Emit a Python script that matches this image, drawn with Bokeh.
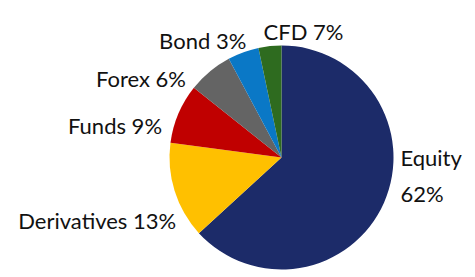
import numpy as np
from bokeh.plotting import figure
from bokeh.models import ColumnDataSource, Range1d
from bokeh.core.properties import value
from bokeh.embed import file_html
from bokeh.resources import INLINE

# ---- data ----
categories = ["Equity", "Derivatives", "Funds", "Forex", "Bond", "CFD"]
slice_values = [63.2, 13.9, 8.6, 6.5, 4.5, 3.3]     # slice sizes as drawn
label_pct = [62, 13, 9, 6, 3, 7]                     # percentages printed in labels

# ---- styles / layout ----
colors = ["#1c2b69", "#ffc000", "#c00000", "#646464", "#0a78c6", "#2e6b1f"]
W, H = 475, 277
cx, cy, r = 281, 120, 112
# label anchor (x, baseline y) in plot coords and alignment
label_pos = {
    "Equity": (400, 119.7, "left"),
    "Derivatives": (96.7, 57, "center"),
    "Funds": (114.5, 152, "center"),
    "Forex": (140.5, 198.7, "center"),
    "Bond": (202.2, 237, "center"),
    "CFD": (303, 246, "center"),
}
FONT = "Lato"
FSIZE = "22px"

vals = np.array(slice_values, dtype=float)
frac = vals / vals.sum()
cum = np.concatenate([[0], np.cumsum(frac)])
start = np.pi / 2 - cum[:-1] * 2 * np.pi
end = np.pi / 2 - cum[1:] * 2 * np.pi

src = ColumnDataSource(dict(start=start, end=end, color=colors, cat=categories))

p = figure(width=W, height=H, x_range=Range1d(0, W), y_range=Range1d(0, H),
           output_backend="svg", toolbar_location=None, min_border=0)
p.axis.visible = False
p.grid.visible = False
p.outline_line_color = None
p.background_fill_color = "white"

p.wedge(x=cx, y=cy, radius=r, start_angle="start", end_angle="end",
        direction="clock", fill_color="color", line_color=None, source=src)

# labels
for cat, pct in zip(categories, label_pct):
    x, y, align = label_pos[cat]
    if cat == "Equity":
        texts = [cat, f"{pct}%"]
        ys = [y, y - 36]
    else:
        texts = [f"{cat} {pct}%"]
        ys = [y]
    p.text(x=[x] * len(texts), y=ys, text=texts, text_align=align,
           text_baseline="alphabetic", text_font=value(FONT),
           text_font_size=FSIZE, text_color="#111111")

open("out.html", "w").write(file_html(p, INLINE))
